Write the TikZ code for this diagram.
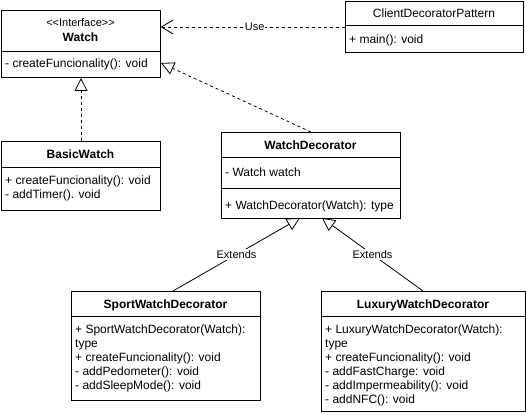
\documentclass[tikz,border=0pt]{standalone}
\usepackage{fontspec}
\setmainfont{Liberation Sans}
\usetikzlibrary{arrows.meta}
\begin{document}
\begin{tikzpicture}[x=1pt,y=-1pt,
  box/.style={draw, line width=1pt, inner sep=0pt, anchor=north west},
  divline/.style={line width=1pt},
  ttl/.style={font=\fontsize{12pt}{14pt}\selectfont\bfseries, anchor=base, inner sep=0pt},
  stereo/.style={font=\fontsize{11pt}{13pt}\selectfont, anchor=base, inner sep=0pt},
  cls/.style={font=\fontsize{12pt}{14pt}\selectfont, anchor=base, inner sep=0pt},
  itm/.style={font=\fontsize{12pt}{14pt}\selectfont, anchor=base west, inner sep=0pt},
  dep/.style={line width=0.8pt, dash pattern=on 3pt off 3pt, -{Straight Barb[length=12pt,width=14pt]}},
  impl/.style={line width=0.8pt, dash pattern=on 3pt off 3pt, -{Triangle[open,length=13pt,width=13pt]}},
  ext/.style={line width=0.8pt, -{Triangle[open,length=13pt,width=13pt]}},
  lbl/.style={font=\fontsize{11pt}{13pt}\selectfont, fill=white, inner sep=1pt}
]
\useasboundingbox (0,0) rectangle (526,414);

% Watch
\node[box, minimum width=159pt, minimum height=67pt] (watch) at (1,10) {};
\draw[divline] (1,52) -- (160,52);
\node[stereo] (watchst) at (80.5,27) {{<}{<}Interface{>}{>}};
\node[ttl] (watcht) at (80.5,42) {Watch};
\node[itm] (watchi) at (5,68) {- createFuncionality(): void};

% ClientDecoratorPattern
\node[box, minimum width=178pt, minimum height=51pt] (client) at (345,1) {};
\draw[divline] (345,26) -- (523,26);
\node[cls] (clientt) at (434,18) {ClientDecoratorPattern};
\node[itm] (clienti) at (349,44) {+ main(): void};

% BasicWatch
\node[box, minimum width=159pt, minimum height=69pt] (bw) at (1,141) {};
\draw[divline] (1,167) -- (160,167);
\node[ttl] (bwt) at (80.5,158) {BasicWatch};
\node[itm] (bwi1) at (5,184) {+ createFuncionality(): void};
\node[itm] (bwi2) at (5,198) {- addTimer(). void};

% WatchDecorator
\node[box, minimum width=179pt, minimum height=86pt] (wd) at (221,132) {};
\draw[divline] (221,157) -- (400,157);
\draw[divline] (221,188) -- (400,188);
\node[ttl] (wdt) at (310.5,149) {WatchDecorator};
\node[itm] (wdi1) at (225,176) {- Watch watch};
\node[itm] (wdi2) at (225,209) {+ WatchDecorator(Watch): type};

% SportWatchDecorator
\node[box, minimum width=189pt, minimum height=109pt] (sport) at (71,291) {};
\draw[divline] (71,316) -- (260,316);
\node[ttl] (sportt) at (165.5,308) {SportWatchDecorator};
\node[itm] (sp1) at (75,333) {+ SportWatchDecorator(Watch):};
\node[itm] (sp2) at (75,347) {type};
\node[itm] (sp3) at (75,361) {+ createFuncionality(): void};
\node[itm] (sp4) at (75,375) {- addPedometer(): void};
\node[itm] (sp5) at (75,389) {- addSleepMode(): void};

% LuxuryWatchDecorator
\node[box, minimum width=204pt, minimum height=120pt] (lux) at (321,291) {};
\draw[divline] (321,316) -- (525,316);
\node[ttl] (luxt) at (423,308) {LuxuryWatchDecorator};
\node[itm] (lx1) at (325,333) {+ LuxuryWatchDecorator(Watch):};
\node[itm] (lx2) at (325,347) {type};
\node[itm] (lx3) at (325,361) {+ createFuncionality(): void};
\node[itm] (lx4) at (325,375) {- addFastCharge: void};
\node[itm] (lx5) at (325,389) {- addImpermeability(): void};
\node[itm] (lx6) at (325,403) {- addNFC(): void};

% connectors
\coordinate (usetip) at (160.5,27);
\coordinate (usestart) at (345,27);
\draw[dep] (usestart) -- (usetip) node[lbl, pos=0.49] {Use};

\coordinate (impltip) at (161,63);
\draw[impl] (wd.north) -- (impltip);

\draw[impl] (bw.north) -- (watch.south);

\coordinate (spstart) at (173,291);
\coordinate (sptip) at (300,218);
\draw[ext] (spstart) -- (sptip) node[lbl, pos=0.5] {Extends};

\coordinate (lxstart) at (423,291);
\coordinate (lxtip) at (322,218);
\draw[ext] (lxstart) -- (lxtip) node[lbl, pos=0.5] {Extends};
\end{tikzpicture}
\end{document}
